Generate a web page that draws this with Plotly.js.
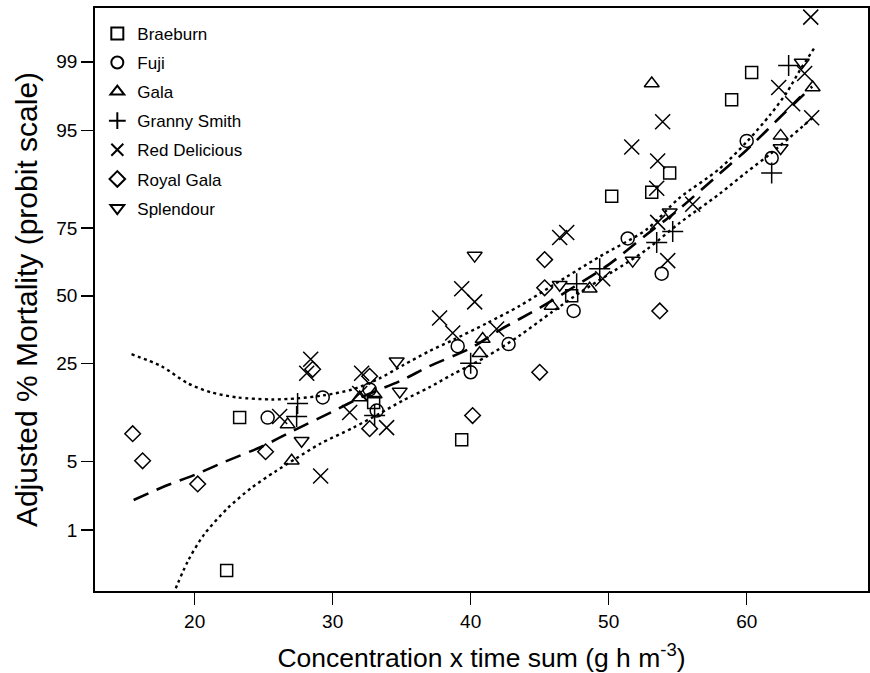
<!DOCTYPE html>
<html>
<head>
<meta charset="utf-8">
<script src="https://cdn.plot.ly/plotly-3.0.1.min.js"></script>
<style>html,body{margin:0;padding:0;background:#fff;}#chart{width:870px;height:673px;}</style>
</head>
<body>
<div id="chart"></div>
<script>
// ---- data (x = concentration x time sum, y = probit = 5 + normal deviate) ----
const mortalityTicks = [1, 5, 25, 50, 75, 95, 99];
const xTicks = [20, 30, 40, 50, 60];

const braeburnX = [23.26, 22.32, 32.97, 39.35, 47.32, 50.22, 53.12, 54.42, 58.91, 60.36];
const braeburnProbit = [3.79, 2.27, 3.94, 3.57, 5.00, 5.99, 6.03, 6.22, 6.95, 7.22];

const fujiX = [25.29, 29.28, 32.68, 33.19, 39.06, 40.00, 42.75, 47.46, 51.38, 53.84, 60.00, 61.81];
const fujiProbit = [3.79, 3.99, 4.07, 3.86, 4.50, 4.24, 4.52, 4.85, 5.57, 5.22, 6.54, 6.37];

const galaX = [26.74, 27.03, 31.96, 33.04, 40.87, 40.65, 45.87, 48.62, 53.12, 62.46, 64.78];
const galaProbit = [3.72, 3.36, 3.99, 4.02, 4.57, 4.43, 4.90, 5.07, 7.11, 6.59, 7.07];

const grannyX = [27.46, 27.39, 33.04, 40.00, 47.68, 49.35, 53.48, 54.64, 61.81, 63.04];
const grannyProbit = [3.93, 3.80, 3.81, 4.33, 5.12, 5.27, 5.53, 5.64, 6.22, 7.29];

const redX = [26.16, 28.12, 28.41, 32.10, 31.23, 33.91, 29.13, 31.96, 37.75, 38.70, 39.35, 40.29, 41.88, 46.45, 46.96, 49.57, 51.67, 53.91, 53.55, 53.48, 56.09, 54.28, 53.55, 62.32, 63.33, 64.20, 64.71, 64.64];
const redProbit = [3.80, 4.23, 4.37, 4.23, 3.84, 3.69, 3.21, 4.03, 4.78, 4.63, 5.07, 4.94, 4.67, 5.58, 5.63, 5.17, 6.48, 6.73, 6.34, 6.07, 5.91, 5.35, 5.73, 7.07, 6.91, 7.21, 6.77, 7.77];

const royalX = [15.51, 16.23, 20.22, 25.14, 28.55, 32.68, 32.68, 40.14, 45.00, 45.36, 45.36, 53.70];
const royalProbit = [3.63, 3.36, 3.13, 3.45, 4.27, 4.20, 3.68, 3.81, 4.24, 5.36, 5.08, 4.85];

const splendourX = [27.75, 34.64, 34.86, 40.29, 46.45, 51.74, 54.42, 62.46, 63.99];
const splendourProbit = [3.56, 4.35, 4.05, 5.40, 5.11, 5.35, 5.83, 6.47, 7.32];

// fitted probit curve and confidence limits
const fitX = [15.58, 17.7, 20, 22, 25, 27, 30, 32.2, 35, 37, 40, 42.1, 45, 47.5, 50, 52.75, 55, 58, 60, 62.9, 64.75];
const fitProbit = [2.97, 3.10, 3.22, 3.34, 3.51, 3.65, 3.85, 4.00, 4.16, 4.30, 4.48, 4.66, 4.88, 5.09, 5.31, 5.61, 5.85, 6.21, 6.45, 6.84, 7.08];

const upperX = [15.43, 17.6, 19.5, 21.2, 23.1, 25.6, 27.4, 29.3, 31.45, 33.4, 35.1, 37.0, 38.7, 41.2, 43.55, 45.9, 49.35, 52.75, 55.1, 58.0, 60.0, 61.7, 62.9, 63.85, 64.93];
const upperProbit = [4.42, 4.30, 4.13, 4.04, 3.99, 3.97, 3.98, 4.01, 4.07, 4.18, 4.31, 4.45, 4.56, 4.73, 4.90, 5.10, 5.39, 5.66, 5.97, 6.26, 6.53, 6.80, 7.02, 7.24, 7.47];

const lowerX = [17.9, 19.5, 20.7, 22.4, 24.1, 25.8, 27.3, 29.1, 31.5, 33.4, 35.1, 37.0, 38.7, 41.2, 43.5, 45.9, 48.0, 50.3, 52.75, 55.1, 58.0, 60.0, 61.7, 64.78];
const lowerProbit = [1.85, 2.36, 2.63, 2.89, 3.09, 3.25, 3.38, 3.53, 3.69, 3.83, 3.96, 4.09, 4.22, 4.40, 4.60, 4.84, 5.04, 5.24, 5.46, 5.72, 6.01, 6.23, 6.41, 6.77];

// ---- inverse normal CDF (probit transform for the axis ticks) ----
function qnorm(p) {
  const a = [-3.969683028665376e+01, 2.209460984245205e+02, -2.759285104469687e+02, 1.383577518672690e+02, -3.066479806614716e+01, 2.506628277459239e+00];
  const b = [-5.447609879822406e+01, 1.615858368580409e+02, -1.556989798598866e+02, 6.680131188771972e+01, -1.328068155288572e+01];
  const c = [-7.784894002430293e-03, -3.223964580411365e-01, -2.400758277161838e+00, -2.549732539343734e+00, 4.374664141464968e+00, 2.938163982698783e+00];
  const d = [7.784695709041462e-03, 3.224671290700398e-01, 2.445134137142996e+00, 3.754408661907416e+00];
  const pl = 0.02425, ph = 1 - pl;
  let q, r;
  if (p < pl) {
    q = Math.sqrt(-2 * Math.log(p));
    return (((((c[0]*q+c[1])*q+c[2])*q+c[3])*q+c[4])*q+c[5]) / ((((d[0]*q+d[1])*q+d[2])*q+d[3])*q+1);
  } else if (p <= ph) {
    q = p - 0.5; r = q*q;
    return (((((a[0]*r+a[1])*r+a[2])*r+a[3])*r+a[4])*r+a[5])*q / (((((b[0]*r+b[1])*r+b[2])*r+b[3])*r+b[4])*r+1);
  } else {
    q = Math.sqrt(-2 * Math.log(1 - p));
    return -(((((c[0]*q+c[1])*q+c[2])*q+c[3])*q+c[4])*q+c[5]) / ((((d[0]*q+d[1])*q+d[2])*q+d[3])*q+1);
  }
}

const FONT = 'Liberation Sans, Arial, Helvetica, sans-serif';

function pts(name, xs, ys, symbol, size) {
  return {
    type: 'scatter', mode: 'markers', name: name, x: xs, y: ys,
    legendgroup: name,
    marker: { symbol: symbol, size: size, color: '#000', line: { color: '#000', width: 1.5 } },
    cliponaxis: false
  };
}
function curve(xs, ys, dash, width) {
  return {
    type: 'scatter', mode: 'lines', x: xs, y: ys, showlegend: false, hoverinfo: 'skip',
    line: { color: '#000', width: width, dash: dash, shape: 'spline', smoothing: 0.8 }
  };
}

const traces = [
  curve(upperX, upperProbit, '3px,3.5px', 2.4),
  curve(lowerX, lowerProbit, '3px,3.5px', 2.4),
  curve(fitX, fitProbit, '16px,9px', 2.6),
  pts('Braeburn', braeburnX, braeburnProbit, 'square-open', 12),
  pts('Fuji', fujiX, fujiProbit, 'circle-open', 13),
  pts('Gala', galaX, galaProbit, 'triangle-up-open', 13),
  pts('Granny Smith', grannyX, grannyProbit, 'cross-thin-open', 15),
  pts('Red Delicious', redX, redProbit, 'x-thin-open', 15),
  pts('Royal Gala', royalX, royalProbit, 'diamond-open', 12),
  pts('Splendour', splendourX, splendourProbit, 'triangle-down-open', 13)
];

const layout = {
  width: 870, height: 673,
  margin: { l: 95, r: 2, t: 8, b: 82 },
  paper_bgcolor: '#fff', plot_bgcolor: '#fff',
  font: { family: FONT, color: '#000', size: 19 },
  showlegend: true,
  legend: {
    x: 0.003, y: 0.9865, xanchor: 'left', yanchor: 'top',
    bgcolor: 'rgba(0,0,0,0)', borderwidth: 0,
    font: { family: FONT, size: 17, color: '#000' },
    tracegroupgap: 4, itemsizing: 'constant'
  },
  xaxis: {
    range: [12.78, 68.79], tickvals: xTicks, ticktext: xTicks.map(String),
    ticks: 'outside', ticklen: 12, tickwidth: 1.5, tickcolor: '#000',
    showline: true, linecolor: '#000', linewidth: 1.8, mirror: true,
    showgrid: false, zeroline: false,
    tickfont: { family: FONT, size: 19, color: '#000' },
    title: { text: 'Concentration x time sum (g h m<sup>-3</sup>)', font: { family: FONT, size: 26.5, color: '#000' }, standoff: 20 }
  },
  yaxis: {
    range: [2.066, 7.861],
    tickvals: mortalityTicks.map(p => 5 + qnorm(p / 100)),
    ticktext: mortalityTicks.map(String),
    ticks: 'outside', ticklen: 12, tickwidth: 1.5, tickcolor: '#000',
    showline: true, linecolor: '#000', linewidth: 1.8, mirror: true,
    showgrid: false, zeroline: false,
    tickfont: { family: FONT, size: 19, color: '#000' },
    title: { text: 'Adjusted % Mortality (probit scale)', font: { family: FONT, size: 30, color: '#000' }, standoff: 10 }
  }
};

Plotly.newPlot('chart', traces, layout, { displayModeBar: false, staticPlot: true });
</script>
</body>
</html>
